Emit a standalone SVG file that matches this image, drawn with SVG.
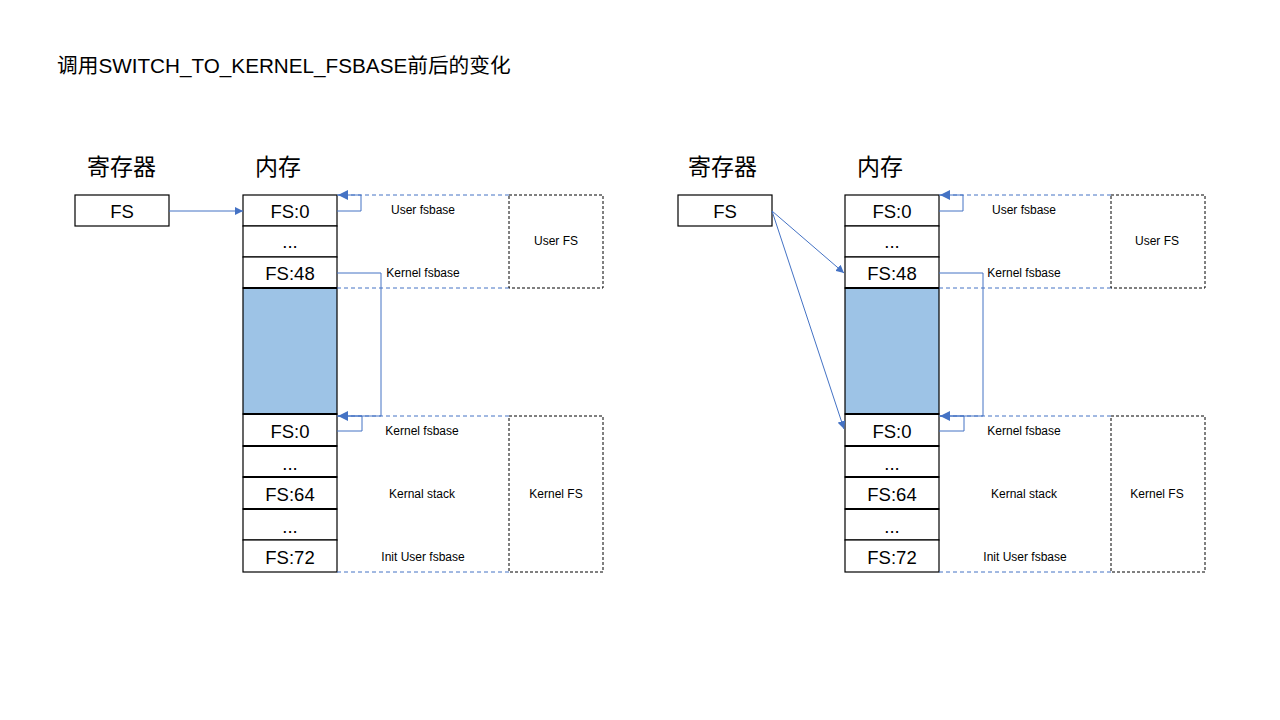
<svg xmlns="http://www.w3.org/2000/svg" width="1280" height="720" viewBox="0 0 1280 720">
<defs>
<marker id="ah" viewBox="0 0 10 10" refX="10" refY="5" markerWidth="8" markerHeight="8" markerUnits="userSpaceOnUse" orient="auto">
<path d="M0,0 L10,5 L0,10 z" fill="#4472C4"/>
</marker>
<marker id="ah2" viewBox="0 0 10 10" refX="10" refY="5" markerWidth="10" markerHeight="10" markerUnits="userSpaceOnUse" orient="auto">
<path d="M0,0 L10,5 L0,10 z" fill="#4472C4"/>
</marker>
</defs>
<style>
.cell{fill:#fff;stroke:#000;stroke-width:1.2}
.blue{fill:#9DC3E6;stroke:#000;stroke-width:1.2}
.thick{stroke:#000;stroke-width:2;fill:none}
.ct{font-family:"Liberation Sans",Arial,sans-serif;font-size:18.5px;fill:#000;text-anchor:middle}
.sm{font-family:"Liberation Sans",Arial,sans-serif;font-size:12px;fill:#000;text-anchor:middle}
.hd{font-family:"Noto Sans CJK SC",sans-serif;font-size:23px;fill:#000}
.title{font-family:"Liberation Sans","Noto Sans CJK SC",sans-serif;font-size:20.7px;fill:#000}
.bd{fill:none;stroke:#000;stroke-width:1;stroke-dasharray:3,2}
.bld{fill:none;stroke:#4472C4;stroke-width:1;stroke-dasharray:4,3}
.con{fill:none;stroke:#4472C4;stroke-width:1}
</style>
<rect width="1280" height="720" fill="#fff"/>
<text class="title" x="57" y="73">调用SWITCH_TO_KERNEL_FSBASE前后的变化</text>

<g id="left-panel">
<text class="hd" x="87" y="175">寄存器</text>
<text class="hd" x="255" y="175">内存</text>
<g id="L-fs-reg"><rect class="cell" x="75" y="195" width="94" height="31"/><text class="ct" x="122" y="218">FS</text></g>
<g id="L-mem">
<rect class="cell" x="243" y="195" width="94" height="31"/><text class="ct" x="290" y="218">FS:0</text>
<rect class="cell" x="243" y="226" width="94" height="31"/><text class="ct" x="290" y="248">...</text>
<rect class="cell" x="243" y="257" width="94" height="31"/><text class="ct" x="290" y="280">FS:48</text>
<rect class="blue" x="243" y="288" width="94" height="126"/>
<rect class="cell" x="243" y="414" width="94" height="32"/><text class="ct" x="290" y="438">FS:0</text>
<rect class="cell" x="243" y="446" width="94" height="31"/><text class="ct" x="290" y="470">...</text>
<rect class="cell" x="243" y="477" width="94" height="32"/><text class="ct" x="290" y="501">FS:64</text>
<rect class="cell" x="243" y="509" width="94" height="31"/><text class="ct" x="290" y="533">...</text>
<rect class="cell" x="243" y="540" width="94" height="32"/><text class="ct" x="290" y="564">FS:72</text>
<path class="thick" d="M243,288 H337 M243,414 H337 M243,446 H337 M243,477 H337 M243,509 H337"/>
</g>
<g id="L-user-fs">
<path class="bld" d="M337,195 H509 M337,288 H509"/>
<rect class="bd" x="509" y="195" width="94" height="93"/>
<text class="sm" x="423" y="214">User fsbase</text>
<text class="sm" x="423" y="277">Kernel fsbase</text>
<text class="sm" x="556" y="245">User FS</text>
</g>
<g id="L-kernel-fs">
<path class="bld" d="M337,416 H509 M337,572 H509"/>
<rect class="bd" x="509" y="416" width="94" height="156"/>
<text class="sm" x="422" y="435">Kernel fsbase</text>
<text class="sm" x="422" y="498">Kernal stack</text>
<text class="sm" x="423" y="561">Init User fsbase</text>
<text class="sm" x="556" y="498">Kernel FS</text>
</g>
</g>

<g id="right-panel">
<text class="hd" x="688" y="175">寄存器</text>
<text class="hd" x="857" y="175">内存</text>
<g id="R-fs-reg"><rect class="cell" x="678" y="195" width="94" height="31"/><text class="ct" x="725" y="218">FS</text></g>
<g id="R-mem">
<rect class="cell" x="845" y="195" width="94" height="31"/><text class="ct" x="892" y="218">FS:0</text>
<rect class="cell" x="845" y="226" width="94" height="31"/><text class="ct" x="892" y="248">...</text>
<rect class="cell" x="845" y="257" width="94" height="31"/><text class="ct" x="892" y="280">FS:48</text>
<rect class="blue" x="845" y="288" width="94" height="126"/>
<rect class="cell" x="845" y="414" width="94" height="32"/><text class="ct" x="892" y="438">FS:0</text>
<rect class="cell" x="845" y="446" width="94" height="31"/><text class="ct" x="892" y="470">...</text>
<rect class="cell" x="845" y="477" width="94" height="32"/><text class="ct" x="892" y="501">FS:64</text>
<rect class="cell" x="845" y="509" width="94" height="31"/><text class="ct" x="892" y="533">...</text>
<rect class="cell" x="845" y="540" width="94" height="32"/><text class="ct" x="892" y="564">FS:72</text>
<path class="thick" d="M845,288 H939 M845,414 H939 M845,446 H939 M845,477 H939 M845,509 H939"/>
</g>
<g id="R-user-fs">
<path class="bld" d="M939,195 H1111 M939,288 H1111"/>
<rect class="bd" x="1111" y="195" width="94" height="93"/>
<text class="sm" x="1024" y="214">User fsbase</text>
<text class="sm" x="1024" y="277">Kernel fsbase</text>
<text class="sm" x="1157" y="245">User FS</text>
</g>
<g id="R-kernel-fs">
<path class="bld" d="M939,416 H1111 M939,572 H1111"/>
<rect class="bd" x="1111" y="416" width="94" height="156"/>
<text class="sm" x="1024" y="435">Kernel fsbase</text>
<text class="sm" x="1024" y="498">Kernal stack</text>
<text class="sm" x="1025" y="561">Init User fsbase</text>
<text class="sm" x="1157" y="498">Kernel FS</text>
</g>
</g>

<g id="connectors">
<path class="con" d="M169,211 H243" marker-end="url(#ah)"/>
<path class="con" d="M337,211 H361 V195 H338" marker-end="url(#ah2)"/>
<path class="con" d="M337,273 H381 V416 H338" marker-end="url(#ah2)"/>
<path class="con" d="M337,431 H362 V416 H338"/>
<path class="con" d="M772,211 L844,273" marker-end="url(#ah)"/>
<path class="con" d="M772,211 L844,429" marker-end="url(#ah)"/>
<path class="con" d="M939,211 H963 V195 H940" marker-end="url(#ah2)"/>
<path class="con" d="M939,273 H983 V416 H940" marker-end="url(#ah2)"/>
<path class="con" d="M939,431 H964 V416 H940"/>
</g>
</svg>
